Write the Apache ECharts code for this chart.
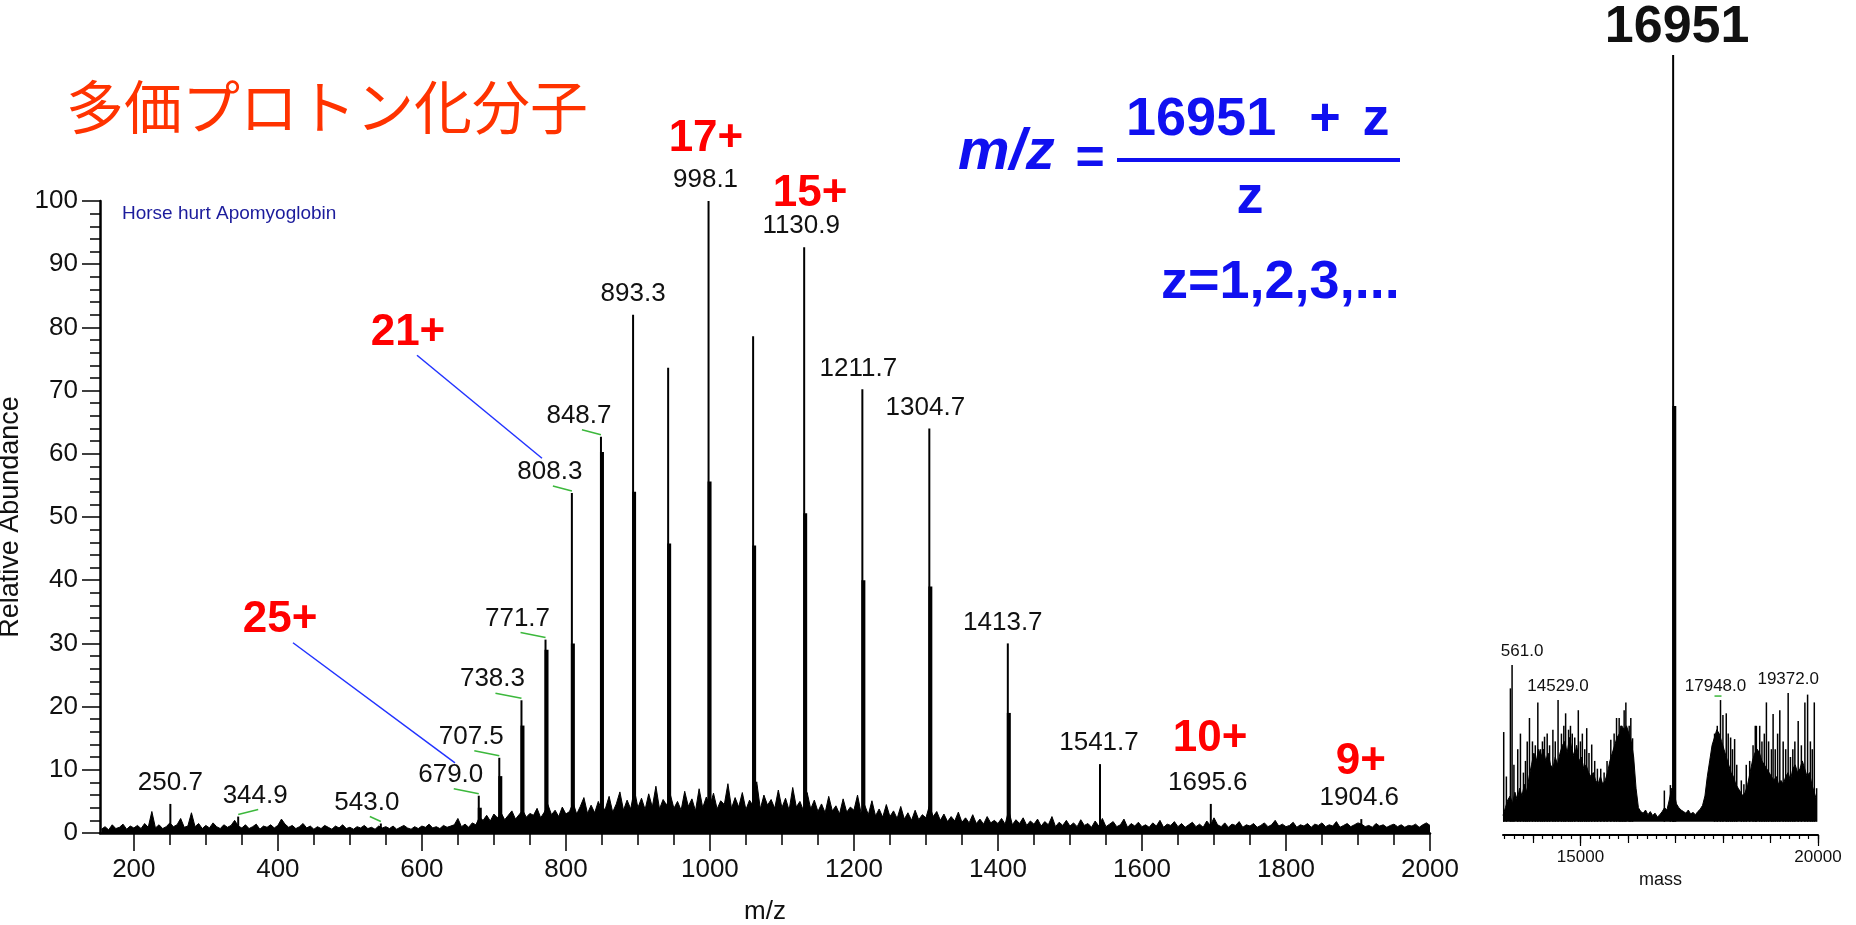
<!DOCTYPE html>
<html><head><meta charset="utf-8">
<script src="https://cdn.jsdelivr.net/npm/echarts@6/dist/echarts.min.js"></script>
<style>html,body{margin:0;padding:0;background:#fff}#c{width:1856px;height:925px}</style>
</head><body><div id="c"></div>
<script>
// ---------- main spectrum (m/z) ----------
const noiseStart = 155, noiseStep = 5;
const noiseVals = [
0.6,1.0,0.5,1.3,0.7,0.9,1.4,0.6,1.1,0.8,
1.2,0.7,1.5,0.9,3.4,0.8,1.3,0.7,1.0,1.6,
1.0,1.3,2.3,0.9,1.1,3.2,1.0,1.5,0.7,1.2,
0.8,1.6,1.0,0.7,1.3,0.9,1.2,2.0,1.1,0.8,
1.3,0.7,1.0,1.4,0.6,1.1,0.9,1.3,0.8,1.2,
2.2,1.4,0.9,1.2,0.7,1.0,1.5,0.8,1.1,0.6,
1.0,0.7,1.2,0.9,0.6,1.1,0.8,1.3,0.7,0.9,
0.6,1.0,0.8,1.2,0.7,0.9,0.6,1.1,0.8,1.0,
0.7,1.1,0.6,0.9,1.2,0.8,0.6,1.0,0.7,1.1,
0.9,1.4,0.8,1.0,0.7,1.2,0.9,1.1,1.3,2.3,
1.0,1.4,0.9,1.6,1.3,2.5,2.0,2.8,1.9,3.0,
2.4,3.2,2.1,2.8,3.5,2.2,2.9,3.6,2.5,3.1,
2.8,3.9,2.4,3.3,4.5,2.9,3.6,2.6,4.1,3.0,
3.4,4.8,3.0,4.2,5.6,3.1,4.4,3.2,5.0,3.5,
3.9,5.8,3.3,4.6,6.5,3.6,5.2,3.8,6.9,4.0,
5.5,3.7,6.2,4.1,7.4,3.8,5.3,4.4,6.1,3.9,
5.0,3.6,6.6,4.2,5.4,3.5,7.0,4.0,5.7,4.3,
6.3,3.8,5.1,4.5,7.8,3.9,5.6,4.1,6.4,3.7,
5.2,4.3,8.1,3.8,6.0,4.4,5.3,3.9,6.8,4.0,
5.5,3.6,7.2,4.1,5.0,3.5,6.4,3.8,5.2,3.4,
4.6,3.2,5.8,3.5,4.3,3.0,5.4,3.3,4.1,3.6,
6.0,3.1,4.4,2.9,5.1,2.7,3.8,2.5,4.5,2.6,
3.5,2.3,4.2,2.2,3.2,2.0,3.6,2.1,2.9,2.4,
4.4,2.6,3.4,2.0,3.0,1.8,2.6,1.9,3.3,1.7,
2.4,1.6,2.9,1.5,2.2,1.4,2.6,1.6,2.0,1.5,
2.3,1.4,3.6,1.3,2.1,1.5,2.4,1.2,1.9,1.4,
2.2,1.1,1.8,1.3,2.6,1.0,1.7,1.2,2.0,1.1,
1.6,1.0,2.1,1.2,1.5,0.9,1.9,1.1,2.3,1.0,
1.4,1.8,1.0,1.3,2.2,0.9,1.5,1.1,1.7,1.0,
1.3,0.9,1.6,1.1,2.0,0.9,1.4,1.2,1.8,1.0,
1.5,0.9,1.3,1.7,1.0,1.4,0.9,1.9,1.2,2.4,
1.3,1.0,1.6,0.9,1.4,1.2,1.8,0.9,1.3,1.1,
1.5,0.9,1.2,1.6,1.0,1.3,2.0,1.1,1.4,1.0,
1.2,1.7,0.9,1.3,1.1,1.5,0.9,1.4,1.2,1.6,
1.0,1.3,1.1,1.8,0.9,1.2,1.5,1.0,1.3,1.6,
1.4,1.0,1.2,0.9,1.5,1.1,1.3,0.9,1.2,1.4,
1.0,1.3,0.9,1.2,1.1,1.4,0.9,1.3,1.6,1.2
];
const peakMz  = [250.7,344.9,543.0,679.0,707.5,738.3,771.7,808.3,848.7,893.3,942.0,998.1,1060.0,1130.9,1211.7,1304.7,1413.7,1541.7,1695.6,1904.6];
const peakInt = [4.6,2.6,1.5,5.9,11.9,21.0,30.6,53.8,62.7,82.0,73.6,100,78.6,92.7,70.2,64.0,30.0,10.9,4.6,2.2];
const adductMz  = [680.4,708.9,739.7,773.1,809.7,850.1,894.7,943.4,999.5,1061.4,1132.3,1213.1,1306.1,1415.1];
const adductInt = [4.0,9.0,17.0,29.0,30.0,60.3,54.0,45.8,55.6,45.5,50.6,40.0,39.0,19.0];
const labelMz = [250.7,344.9,543.0,679.0,707.5,738.3,771.7,808.3,848.7,893.3,998.1,1130.9,1211.7,1304.7,1413.7,1541.7,1695.6,1904.6];
const chargeText = ['17+','15+','21+','25+','10+','9+'];
const chargeX = [994.5,1139,580.7,403,1694.5,1904];
const chargeY = [109.8,101.1,79.1,33.7,14.9,11.2];
const chargeLeaders = [[593.2,75.6,766.8,59.3],[421,30.1,646,11.1]];
const xLabelTicks = [200,400,600,800,1000,1200,1400,1600,1800,2000];
const yLabelTicks = [0,10,20,30,40,50,60,70,80,90,100];

// ---------- inset (deconvoluted mass) ----------
const insetStart = 13370, insetStep = 50;
const insetFloor = [
2.5,3.5,4.5,5.0,4.0,5.5,4.5,6.0,5.0,6.5,
5.5,7.5,9.0,10.5,9.5,11.0,10.0,11.0,9.5,10.5,
9.0,8.5,10.0,9.0,10.5,11.5,12.0,10.5,12.5,11.0,
10.0,11.5,9.5,10.0,8.5,9.0,8.0,7.5,8.0,7.0,
6.5,7.5,6.5,7.0,8.0,9.5,10.5,11.5,12.5,13.0,
14.0,13.5,14.0,13.0,12.0,10.0,6.0,3.5,3.0,2.8,
3.2,2.6,3.0,2.5,2.8,2.3,2.6,3.0,3.5,3.2,
4.5,6.0,5.5,4.0,3.5,3.2,3.0,2.8,3.2,2.7,
2.9,2.6,3.0,3.3,3.8,5.0,7.5,9.5,11.5,12.5,
13.5,13.0,12.0,11.0,10.0,9.0,8.0,7.5,6.5,6.0,
5.5,5.0,5.5,6.5,8.0,9.5,10.5,11.0,10.5,9.5,
9.0,8.5,8.0,7.5,7.0,7.5,6.5,7.0,6.5,7.5,
8.0,7.0,8.5,9.0,8.0,8.5,9.5,8.5,7.5,8.0,
6.5,5.5,4.5
];
const insetBase = 1.7;
const insetPeakMass = [13385,13441,13526,13561,13600,13680,13737,13800,13843,13880,13927,13990,14050,14103,14160,14200,14244,14300,14350,14420,14470,14529,14600,14650,14688,14750,14790,14828,14880,14955,15000,15040,15090,15132,15180,15237,15300,15357,15427,15498,15560,15639,15709,15760,15815,15850,15885,15920,15956,16026,16060,16097,16766,16893,17823,17880,17948,17999,18069,18110,18161,18200,18245,18290,18386,18440,18490,18562,18633,18680,18703,18773,18820,18870,18914,18960,19020,19055,19100,19150,19196,19267,19320,19372,19420,19470,19513,19583,19650,19724,19781,19840,19880,19922,19971];
const insetPeakInt = [13.2,7.5,18.8,21.8,9,11,13,8,9.5,12,15,12,11.5,17,11,12,12.6,13,11.5,13.5,12,17.3,13,14,15.6,13.5,14,13,12.5,16,12,13,11,13.7,10.5,11.6,9.5,8.5,8.5,8,9.5,12.2,13,15,15,14,13.5,16,17,14,15,12.4,5.7,6.4,13,14,17.3,15.4,15.6,13,12.5,11,12.3,9,7,6.5,9,9.5,11.5,14,14,14,12,13,17,12,11,15.5,11,13,16,12,11,18.2,10,11,12,14.6,11.5,17,18,12,11,17,6];
const insetMainMass = 16951, insetMainInt = 100;
const insetAdductMass = 16975, insetAdductInt = 55;
const insetLabelMass = [13561,14529,17948,19372];
const insetLabelText = ['561.0','14529.0','17948.0','19372.0'];
const insetTickLabels = [15000,20000];

// ---------- styling (kept apart from data) ----------
const FONT = '"Liberation Sans", Arial, sans-serif';
const labelShift  = [0,17,-14,-28,-28,-29,-28,-22,-22,0,-3,-3,-4,-4,-5,-1,-3,-2];
const labelLeader = [0,1,1,1,1,1,1,1,1,0,0,0,0,0,0,0,0,0];
const insetLabelShift = [10,0,-5,0];
const insetLabelLeader = [0,0,1,0];

const mainMinorTicks = []; for (let v = 200; v <= 2000; v += 50) mainMinorTicks.push(v);
const insetMinorTicks = []; for (let v = 13400; v <= 20000; v += 200) insetMinorTicks.push(v);
const insetMidTicks = []; for (let v = 14000; v <= 20000; v += 1000) insetMidTicks.push(v);

function lookup(xs, ys, x) { return ys[xs.indexOf(x)]; }
const plain = v => String(v);

const noiseData = noiseVals.map((v, i) => [noiseStart + i * noiseStep, v]);
const insetFloorData = insetFloor.map((v, i) => [insetStart + i * insetStep, v]);

function sticks(data, xi, yi, base, width, z) {
  return { type: 'custom', xAxisIndex: xi, yAxisIndex: yi, clip: false, z: z, data: data, silent: true,
    renderItem: function (params, api) {
      const x = api.value(0), y = api.value(1);
      const p0 = api.coord([x, base]), p1 = api.coord([x, y]);
      return { type: 'line', shape: { x1: p0[0], y1: p0[1], x2: p1[0], y2: p1[1] },
               style: { stroke: '#000', lineWidth: width } };
    } };
}
function labels(data, xi, yi, texts, shifts, leaders, font, gap, leaderKind, z) {
  return { type: 'custom', xAxisIndex: xi, yAxisIndex: yi, clip: false, z: z, data: data, silent: true,
    renderItem: function (params, api) {
      const i = params.dataIndex;
      const p = api.coord([api.value(0), api.value(1)]);
      const lx = p[0] + shifts[i], ly = p[1] - gap;
      const ch = [{ type: 'text', x: lx, y: ly,
        style: { text: texts[i], font: font, fill: '#111', textAlign: 'center', textVerticalAlign: 'middle' } }];
      if (leaders[i]) {
        const sh = leaderKind === 'flat'
          ? { x1: p[0] - 6, y1: p[1] - 4, x2: p[0] + 1, y2: p[1] - 4 }
          : { x1: lx + 3, y1: p[1] - 7, x2: p[0], y2: p[1] - 2 };
        ch.push({ type: 'line', shape: sh, style: { stroke: '#3cb83c', lineWidth: 1.5 } });
      }
      return { type: 'group', children: ch };
    } };
}

const chart = echarts.init(document.getElementById('c'), null, { renderer: 'canvas' });
const axisTxt = { fontFamily: FONT, color: '#111', formatter: plain };
const option = {
  backgroundColor: '#fff',
  animation: false,
  grid: [
    { left: 100, right: 426, top: 201, bottom: 92, outerBoundsMode: 'none' },
    { left: 1503, right: 38, top: 55, bottom: 90, outerBoundsMode: 'none' }
  ],
  xAxis: [
    { gridIndex: 0, type: 'value', position: 'bottom', min: 153, max: 2000,
      axisLine: { lineStyle: { color: '#000', width: 2.5 } },
      axisTick: { customValues: mainMinorTicks, length: 12, lineStyle: { color: '#000', width: 1.5 } },
      axisLabel: Object.assign({ customValues: xLabelTicks, fontSize: 26, margin: 24 }, axisTxt),
      splitLine: { show: false },
      name: 'm/z', nameLocation: 'middle', nameGap: 66,
      nameTextStyle: { fontFamily: FONT, fontSize: 26, color: '#111' } },
    { gridIndex: 0, type: 'value', position: 'bottom', min: 153, max: 2000,
      axisLine: { show: false },
      axisTick: { customValues: xLabelTicks, length: 18, lineStyle: { color: '#000', width: 1.5 } },
      axisLabel: { show: false }, splitLine: { show: false } },
    { gridIndex: 1, type: 'value', position: 'bottom', min: 13370, max: 20000,
      axisLine: { lineStyle: { color: '#000', width: 2 } },
      axisTick: { customValues: insetMinorTicks, length: 4, lineStyle: { color: '#000', width: 1.2 } },
      axisLabel: Object.assign({ customValues: insetTickLabels, fontSize: 17, margin: 14 }, axisTxt),
      splitLine: { show: false },
      name: 'mass', nameLocation: 'middle', nameGap: 32,
      nameTextStyle: { fontFamily: FONT, fontSize: 18, color: '#111' } },
    { gridIndex: 1, type: 'value', position: 'bottom', min: 13370, max: 20000, axisLine: { show: false },
      axisTick: { customValues: insetMidTicks, length: 8, lineStyle: { color: '#000', width: 1.2 } },
      axisLabel: { show: false }, splitLine: { show: false } },
    { gridIndex: 1, type: 'value', position: 'bottom', min: 13370, max: 20000, axisLine: { show: false },
      axisTick: { customValues: insetTickLabels, length: 11, lineStyle: { color: '#000', width: 1.2 } },
      axisLabel: { show: false }, splitLine: { show: false } }
  ],
  yAxis: [
    { gridIndex: 0, type: 'value', min: 0, max: 100, interval: 10,
      axisLine: { show: true, lineStyle: { color: '#000', width: 2.5 } },
      axisTick: { show: true, length: 18, lineStyle: { color: '#000', width: 1.5 } },
      minorTick: { show: true, splitNumber: 5, length: 10, lineStyle: { color: '#000', width: 1.5 } },
      axisLabel: Object.assign({ customValues: yLabelTicks, fontSize: 26, margin: 22 }, axisTxt),
      splitLine: { show: false }, minorSplitLine: { show: false },
      name: 'Relative Abundance', nameLocation: 'middle', nameGap: 66, nameRotate: 90,
      nameTextStyle: { fontFamily: FONT, fontSize: 27, color: '#111' } },
    { gridIndex: 1, type: 'value', min: 0, max: 100, show: false, splitLine: { show: false } }
  ],
  series: [
    { type: 'line', xAxisIndex: 0, yAxisIndex: 0, data: noiseData, symbol: 'none', silent: true, z: 2,
      lineStyle: { color: '#000', width: 1 }, areaStyle: { color: '#000', opacity: 1 } },
    sticks(peakMz.map((m, i) => [m, peakInt[i]]), 0, 0, 0, 2, 3),
    sticks(adductMz.map((m, i) => [m, adductInt[i]]), 0, 0, 0, 4, 3),
    labels(labelMz.map(m => [m, lookup(peakMz, peakInt, m)]), 0, 0,
      labelMz.map(m => m.toFixed(1)), labelShift, labelLeader, '26px ' + FONT, 21, 'slant', 5),
    { type: 'custom', xAxisIndex: 0, yAxisIndex: 0, clip: false, z: 6, silent: true,
      data: chargeX.map((x, i) => [x, chargeY[i]]),
      renderItem: function (params, api) {
        const p = api.coord([api.value(0), api.value(1)]);
        return { type: 'text', x: p[0], y: p[1],
          style: { text: chargeText[params.dataIndex], font: 'bold 44px ' + FONT, fill: '#FF0000',
                   textAlign: 'center', textVerticalAlign: 'middle' } };
      } },
    { type: 'custom', xAxisIndex: 0, yAxisIndex: 0, clip: false, z: 6, silent: true,
      data: chargeLeaders,
      renderItem: function (params, api) {
        const a = api.coord([api.value(0), api.value(1)]);
        const b = api.coord([api.value(2), api.value(3)]);
        return { type: 'line', shape: { x1: a[0], y1: a[1], x2: b[0], y2: b[1] },
                 style: { stroke: '#2233ff', lineWidth: 1.5 } };
      } },
    // inset
    { type: 'line', xAxisIndex: 2, yAxisIndex: 1, data: insetFloorData, symbol: 'none', silent: true, z: 2,
      lineStyle: { color: '#000', width: 1 }, areaStyle: { color: '#000', opacity: 1, origin: insetBase } },
    sticks(insetPeakMass.map((m, i) => [m, insetPeakInt[i]]), 2, 1, insetBase, 1.5, 3),
    sticks([[insetMainMass, insetMainInt]], 2, 1, insetBase, 2, 3),
    sticks([[insetAdductMass, insetAdductInt]], 2, 1, insetBase, 4, 3),
    labels(insetLabelMass.map(m => [m, lookup(insetPeakMass, insetPeakInt, m)]), 2, 1,
      insetLabelText, insetLabelShift, insetLabelLeader, '17px ' + FONT, 14, 'flat', 5),
    labels([[insetMainMass, insetMainInt]], 2, 1, [String(insetMainMass)], [4], [0],
      'bold 52px ' + FONT, 27, 'flat', 5)
  ],
  graphic: [
    { type: 'text', x: 327, y: 107, silent: true,
      style: { text: '多価プロトン化分子', font: '58px "Noto Sans CJK JP"', fill: '#FF3300',
               textAlign: 'center', textVerticalAlign: 'middle' } },
    { type: 'text', x: 122, y: 214, silent: true,
      style: { text: 'Horse hurt Apomyoglobin', font: '19px ' + FONT, fill: '#1c1c9c',
               textAlign: 'left', textVerticalAlign: 'middle' } },
    { type: 'text', x: 958, y: 153, silent: true,
      style: { text: 'm/z', font: 'italic bold 58px ' + FONT, fill: '#1010F0', textAlign: 'left', textVerticalAlign: 'middle' } },
    { type: 'text', x: 1090, y: 160, silent: true,
      style: { text: '=', font: 'bold 50px ' + FONT, fill: '#1010F0', textAlign: 'center', textVerticalAlign: 'middle' } },
    { type: 'line', silent: true, shape: { x1: 1117, y1: 160, x2: 1400, y2: 160 },
      style: { stroke: '#1010F0', lineWidth: 4 } },
    { type: 'text', x: 1126, y: 120, silent: true,
      style: { text: '16951', font: 'bold 54px ' + FONT, fill: '#1010F0', textAlign: 'left', textVerticalAlign: 'middle' } },
    { type: 'text', x: 1325, y: 120, silent: true,
      style: { text: '+', font: 'bold 54px ' + FONT, fill: '#1010F0', textAlign: 'center', textVerticalAlign: 'middle' } },
    { type: 'text', x: 1376, y: 120, silent: true,
      style: { text: 'z', font: 'bold 54px ' + FONT, fill: '#1010F0', textAlign: 'center', textVerticalAlign: 'middle' } },
    { type: 'text', x: 1250, y: 198, silent: true,
      style: { text: 'z', font: 'bold 54px ' + FONT, fill: '#1010F0', textAlign: 'center', textVerticalAlign: 'middle' } },
    { type: 'text', x: 1161, y: 283, silent: true,
      style: { text: 'z=1,2,3,...', font: 'bold 54px ' + FONT, fill: '#1010F0', textAlign: 'left', textVerticalAlign: 'middle' } }
  ]
};
chart.setOption(option);
</script></body></html>
